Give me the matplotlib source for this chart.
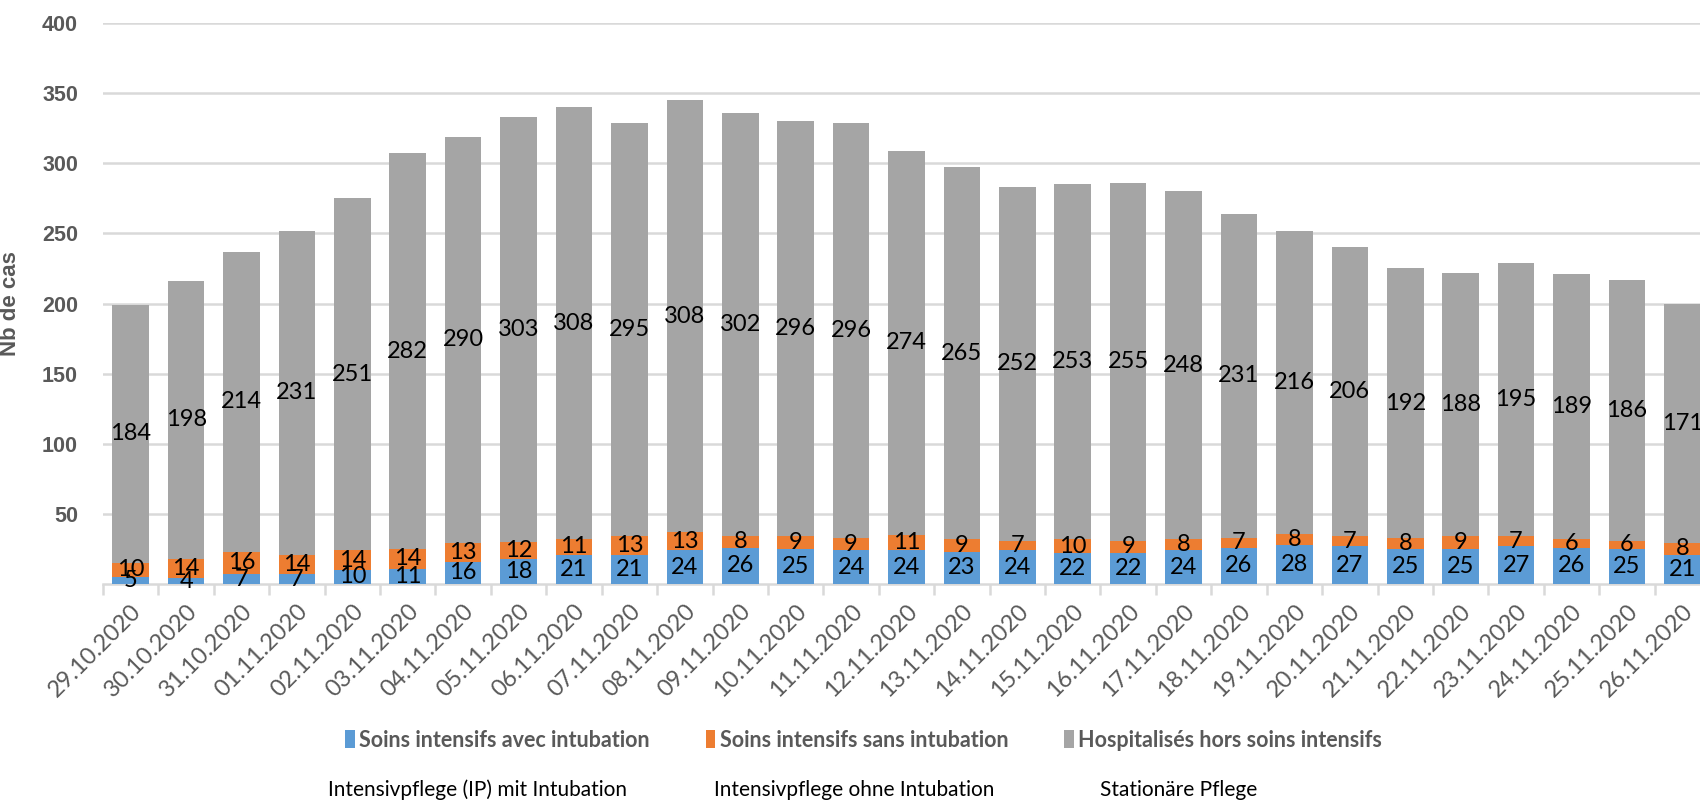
import numpy as np
import matplotlib.pyplot as plt
from matplotlib.patches import Patch
from matplotlib.ticker import FixedLocator

dates = ["29.10.2020", "30.10.2020", "31.10.2020", "01.11.2020", "02.11.2020",
         "03.11.2020", "04.11.2020", "05.11.2020", "06.11.2020", "07.11.2020",
         "08.11.2020", "09.11.2020", "10.11.2020", "11.11.2020", "12.11.2020",
         "13.11.2020", "14.11.2020", "15.11.2020", "16.11.2020", "17.11.2020",
         "18.11.2020", "19.11.2020", "20.11.2020", "21.11.2020", "22.11.2020",
         "23.11.2020", "24.11.2020", "25.11.2020", "26.11.2020"]
avec_intubation = [5, 4, 7, 7, 10, 11, 16, 18, 21, 21, 24, 26, 25, 24, 24,
                   23, 24, 22, 22, 24, 26, 28, 27, 25, 25, 27, 26, 25, 21]
sans_intubation = [10, 14, 16, 14, 14, 14, 13, 12, 11, 13, 13, 8, 9, 9, 11,
                   9, 7, 10, 9, 8, 7, 8, 7, 8, 9, 7, 6, 6, 8]
hors_soins = [184, 198, 214, 231, 251, 282, 290, 303, 308, 295, 308, 302, 296, 296, 274,
              265, 252, 253, 255, 248, 231, 216, 206, 192, 188, 195, 189, 186, 171]
y_ticks = [50, 100, 150, 200, 250, 300, 350, 400]

series_names = ["Soins intensifs avec intubation", "Soins intensifs sans intubation",
                "Hospitalisés hors soins intensifs"]
bottom_notes = ["Intensivpflege (IP) mit Intubation", "Intensivpflege ohne Intubation",
                "Stationäre Pflege"]
colors = ["#5B9BD5", "#ED7D31", "#A5A5A5"]

plt.rcParams['font.family'] = ['Lato', 'DejaVu Sans']
tick_color = "#595959"

fig = plt.figure(figsize=(17, 8.02), dpi=100)
# axes run past the right edge, like the cropped original
ax = fig.add_axes([103 / 1700, 1 - 584 / 802, 1607 / 1700, 561 / 802])

x = np.arange(len(dates))
a = np.array(avec_intubation)
s = np.array(sans_intubation)
h = np.array(hors_soins)
w = 0.66
b1 = ax.bar(x, a, w, color=colors[0], zorder=3)
b2 = ax.bar(x, s, w, bottom=a, color=colors[1], zorder=3)
b3 = ax.bar(x, h, w, bottom=a + s, color=colors[2], zorder=3)
for bars in (b1, b2, b3):
    ax.bar_label(bars, label_type='center', fontsize=17, color='black')

ax.set_xlim(-0.5, len(dates) - 0.5)
ax.set_ylim(0, 400)
ax.set_yticks(y_ticks, labels=[str(v) for v in y_ticks],
              fontsize=15.5, fontweight='bold', color=tick_color,
              family=['Liberation Sans', 'DejaVu Sans'])
ax.grid(axis='y', color='#D9D9D9', linewidth=1.8, zorder=0)
for sp in ['top', 'right', 'left']:
    ax.spines[sp].set_visible(False)
ax.spines['bottom'].set_color('#D9D9D9')
ax.spines['bottom'].set_linewidth(1.8)

ax.set_xticks(x, labels=dates, rotation=45, ha='right', rotation_mode='anchor',
              fontsize=17, color=tick_color)
ax.tick_params(axis='x', which='major', length=0, pad=12)
ax.xaxis.set_minor_locator(FixedLocator(np.arange(-0.5, len(dates), 1)))
ax.tick_params(axis='x', which='minor', length=8, width=1.8, color='#D9D9D9')
ax.tick_params(axis='y', length=0, pad=18)

ax.set_ylabel("Nb de cas", fontsize=16, fontweight='bold', color=tick_color,
              family=['Liberation Sans', 'DejaVu Sans'])
ax.yaxis.set_label_coords(-0.051, 0.50)

handles = [Patch(facecolor=c) for c in colors]
fig.legend(handles, series_names, loc='center', bbox_to_anchor=(0.508, 0.077),
           ncol=3, frameon=False, handlelength=0.45, handleheight=0.9,
           handletextpad=0.2, columnspacing=2.6,
           prop={'size': 15.5, 'weight': 'bold'}, labelcolor=tick_color)

for xpos, txt in zip([328, 714, 1100], bottom_notes):
    fig.text(xpos / 1700, 12 / 802, txt, fontsize=15, color='black', va='center')

fig.savefig('out.png', dpi=100)
